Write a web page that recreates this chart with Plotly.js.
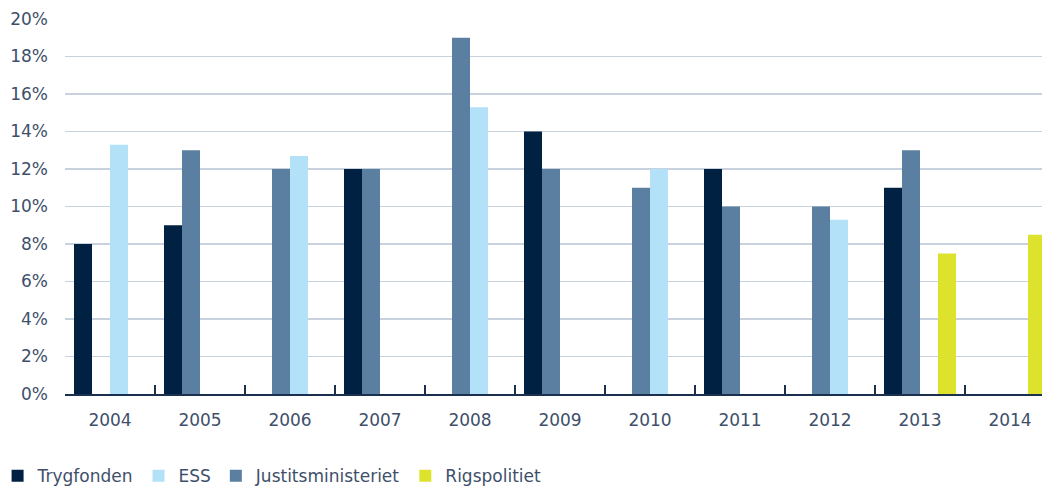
<!DOCTYPE html>
<html>
<head>
<meta charset="utf-8">
<script src="https://cdn.plot.ly/plotly-3.0.1.min.js"></script>
<style>html,body{margin:0;padding:0;background:#fff;}#chart{width:1042px;height:486px;}</style>
</head>
<body>
<div id="chart"></div>
<script>
const years = [2004, 2005, 2006, 2007, 2008, 2009, 2010, 2011, 2012, 2013, 2014];
const yearLabels = ['2004','2005','2006','2007','2008','2009','2010','2011','2012','2013','2014'];
const trygfonden = [8, 9, null, 12, null, 14, null, 12, null, 11, null];
const ess = [13.3, null, 12.7, null, 15.3, null, 12, null, 9.3, null, null];
const justitsministeriet = [null, 13, 12, 12, 19, 12, 11, 10, 10, 13, null];
const rigspolitiet = [null, null, null, null, null, null, null, null, null, 7.5, 8.5];
const yTicks = [0, 2, 4, 6, 8, 10, 12, 14, 16, 18, 20];
const yTickLabels = yTicks.map(v => v + '%');

const font = {family: '"DejaVu Sans", sans-serif', size: 17, color: '#3e4f6a'};

const traces = [
  {type: 'bar', name: 'Trygfonden', x: years, y: trygfonden, marker: {color: '#012142'}, legendrank: 1},
  {type: 'bar', name: 'Justitsministeriet', x: years, y: justitsministeriet, marker: {color: '#5b7fa0'}, legendrank: 3},
  {type: 'bar', name: 'ESS', x: years, y: ess, marker: {color: '#b3e2f8'}, legendrank: 2},
  {type: 'bar', name: 'Rigspolitiet', x: years, y: rigspolitiet, marker: {color: '#dde22c'}, legendrank: 4}
];

const layout = {
  width: 1042, height: 486,
  margin: {l: 65, r: 0, t: 19, b: 92, autoexpand: false},
  paper_bgcolor: '#ffffff', plot_bgcolor: '#ffffff',
  font: font,
  barmode: 'group', bargap: 0.2, bargroupgap: 0,
  showlegend: true,
  legend: {orientation: 'h', x: -0.069, xanchor: 'left', y: -0.219, yanchor: 'middle', font: font, traceorder: 'normal'},
  xaxis: {
    type: 'linear',
    range: [years[0] - 0.5, years[0] - 0.5 + 977 / 90],
    tickmode: 'array', tickvals: years, ticktext: yearLabels,
    ticks: '', showgrid: false, zeroline: false,
    showline: true, linecolor: '#1b2f4e', linewidth: 1.5,
    tickfont: font, ticklabelstandoff: 10,
    minor: {tickmode: 'array', tickvals: years.slice(0, -1).map(v => v + 0.5), ticks: 'inside', ticklen: 9, tickwidth: 1.5, tickcolor: '#1b2f4e', showgrid: false}
  },
  yaxis: {
    range: [0, 20],
    tickmode: 'array', tickvals: yTicks, ticktext: yTickLabels,
    showgrid: true, gridcolor: '#c8d2df', gridwidth: 1.5,
    zeroline: false, showline: false, ticks: '',
    tickfont: font, ticklabelstandoff: 16
  }
};

Plotly.newPlot('chart', traces, layout, {displayModeBar: false, staticPlot: true});
</script>
</body>
</html>
